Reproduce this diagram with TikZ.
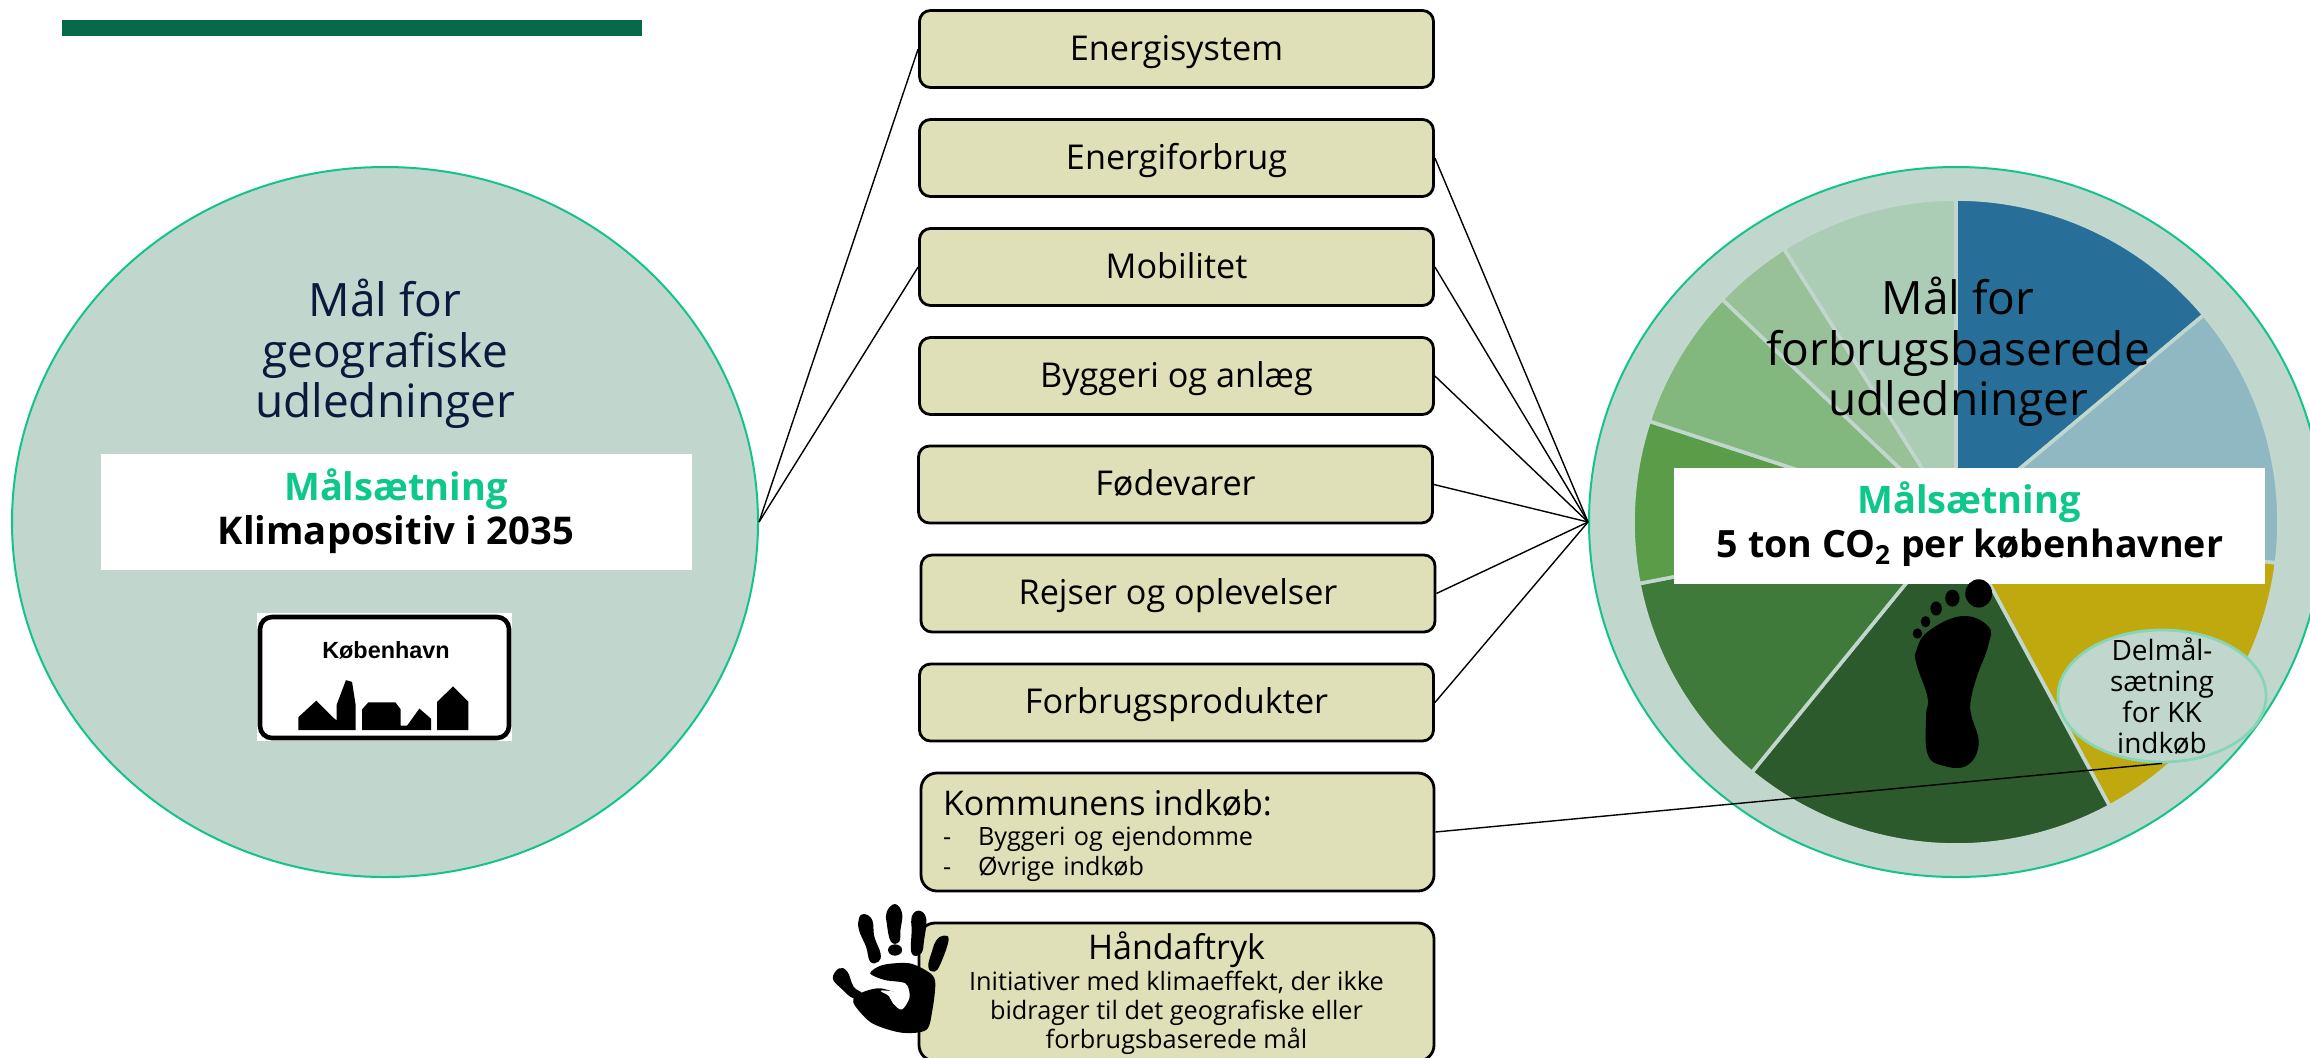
\documentclass[tikz,border=0pt]{standalone}
\usepackage{fontspec}
\setmainfont{Open Sans}
\newfontfamily\arialfont{Liberation Sans}
\usetikzlibrary{shapes.geometric}
\definecolor{ringbg}{HTML}{C1D7CE}
\definecolor{ringline}{HTML}{12C48B}
\definecolor{boxfill}{HTML}{DFDFB8}
\definecolor{barcol}{HTML}{07694A}
\definecolor{navytext}{HTML}{0A1A3C}
\definecolor{goalgreen}{HTML}{0EC78A}
\definecolor{softline}{HTML}{86D6B6}
\definecolor{pa}{HTML}{276E99}
\definecolor{pb}{HTML}{90B8C2}
\definecolor{pc}{HTML}{BFA90E}
\definecolor{pd}{HTML}{2C5A2C}
\definecolor{pe}{HTML}{3F7A3A}
\definecolor{pf}{HTML}{5A9C48}
\definecolor{pg}{HTML}{82B77D}
\definecolor{ph}{HTML}{99C198}
\definecolor{pi}{HTML}{ACCDB5}
\tikzset{
  bigring/.style={ellipse,draw=ringline,fill=ringbg,line width=1pt,minimum width=373pt,minimum height=355pt,inner sep=0pt},
  topicbox/.style={draw=black,fill=boxfill,rounded corners=5.5pt,line width=1.4pt,minimum width=257pt,minimum height=38.5pt,inner sep=0pt,text height=13pt,text depth=2pt,font=\fontsize{17.1}{20}\selectfont},
  wide/.style={draw=black,fill=boxfill,rounded corners=8pt,line width=1.4pt,inner sep=0pt},
  whitebar/.style={fill=white,inner sep=0pt,minimum width=295.5pt,minimum height=58pt},
  title/.style={align=center,inner sep=0pt,font=\fontsize{23}{25.2}\selectfont},
  goal/.style={inner sep=0pt,text=goalgreen,font=\bfseries\fontsize{19}{22}\selectfont},
  goaltext/.style={inner sep=0pt,text=black,font=\bfseries\fontsize{19.1}{22}\selectfont},
  link/.style={draw=black,line width=0.7pt},
  wedge/.style={draw=ringbg,line width=1.8pt,line join=round}
}
\newcommand{\pieslice}[3]{\filldraw[wedge,fill=#1] (0,0) -- (#2:323) arc (#2:#3:323) -- cycle;}
\begin{document}
\begin{tikzpicture}[x=0.5pt,y=-0.5pt]
\useasboundingbox (0,0) rectangle (2310,1057);
\clip (0,0) rectangle (2310,1057);

\fill[barcol] (62,20) rectangle (642,36);

% left ellipse
\node[bigring] (geo) at (385,522) {};
\node[title,text=navytext] (geotitle) at (385,354) {Mål for\\geografiske\\udledninger};
\node[whitebar] (geobar) at (396.5,512) {};
\node[goal] (geogoal) at (396,489) {Målsætning};
\node[goaltext] (geotext) at (396,535) {Klimapositiv i 2035};

% road sign
\fill[white] (257,613) rectangle (512,741);
\draw[black,line width=2.3pt,rounded corners=6pt] (260,617) rectangle (509,738);
\node[inner sep=0pt,font=\arialfont\bfseries\fontsize{11.7}{14}\selectfont] (signtext) at (386,650) {København};
\begin{scope}[xscale=0.5102,yscale=0.5682]
\fill[black] (585,1285) -- (585,1262) -- (620,1233) -- (652,1262) -- (660,1268) -- (660,1240) -- (678,1197) -- (690,1200) -- (697,1240) -- (697,1285) -- cycle;
\fill[black] (710,1285) -- (710,1248) -- (722,1236) -- (775,1236) -- (785,1248) -- (785,1277) -- (798,1277) -- (822,1247) -- (845,1265) -- (845,1285) -- cycle;
\fill[black] (857,1285) -- (857,1235) -- (888,1208) -- (918,1235) -- (918,1285) -- cycle;
\end{scope}

% right ellipse
\node[bigring,minimum width=367pt] (cons) at (1956,522) {};
\begin{scope}[shift={(1956,522)},yscale=-1]
\pieslice{pa}{39.9}{90}
\pieslice{pb}{-7.3}{39.9}
\pieslice{pc}{-61.6}{-7.3}
\pieslice{pd}{-129.2}{-61.6}
\pieslice{pe}{-169}{-129.2}
\pieslice{pf}{161.8}{191}
\pieslice{pg}{136.4}{161.8}
\pieslice{ph}{122.2}{136.4}
\pieslice{pi}{90}{122.2}
\end{scope}
\node[title,text=black] (constitle) at (1958,352) {Mål for\\forbrugsbaserede\\udledninger};
\node[whitebar] (consbar) at (1969.5,525.5) {};
\node[goal] (consgoal) at (1969,502) {Målsætning};
\node[goaltext,font=\bfseries\fontsize{18.8}{22}\selectfont] (constext) at (1970,548) {5 ton CO\textsubscript{2} per københavner};

% footprint
\begin{scope}[shift={(1560,150)},xscale=0.4785,yscale=0.4717]
\fill[black] plot[smooth cycle,tension=0.7] coordinates {(840,988) (895,1010) (895,1050) (870,1120) (858,1170) (860,1200) (875,1260) (850,1305) (800,1305) (768,1280) (765,1200) (768,1160) (745,1090) (745,1060) (770,1020)};
\fill[black] (875,940) ellipse (28 and 30);
\fill[black] (820,950) ellipse (15 and 18);
\fill[black] (786,972) ellipse (12 and 15);
\fill[black] (764,1000) ellipse (10 and 12);
\fill[black] (747,1025) ellipse (10 and 11);
\end{scope}

% small ellipse
\node[ellipse,draw=softline,fill=ringbg,line width=1.4pt,minimum width=104pt,minimum height=66pt,inner sep=0pt] (delmaal) at (2162,696) {};
\node[inner sep=0pt,align=center,font=\fontsize{14}{15.6}\selectfont] (delmaaltext) at (2162,696) {Delmål-\\sætning\\for KK\\indkøb};

% boxes
\node[topicbox] (b1) at (1176.5,49) {Energisystem};
\node[topicbox] (b2) at (1176.5,158) {Energiforbrug};
\node[topicbox] (b3) at (1176.5,267) {Mobilitet};
\node[topicbox] (b4) at (1176.5,376) {Byggeri og anlæg};
\node[topicbox] (b5) at (1175.5,484.5) {Fødevarer};
\node[topicbox] (b6) at (1178,593.5) {Rejser og oplevelser};
\node[topicbox] (b7) at (1176.5,702.5) {Forbrugsprodukter};
\node[wide,minimum width=256.5pt,minimum height=59pt] (b8) at (1177.5,832) {};
\node[inner sep=0pt,align=left,text width=233pt,font=\fontsize{12.6}{15}\selectfont] (b8text) at (1176,836) {{\fontsize{17}{20}\selectfont Kommunens indkøb:}\\\makebox[17.5pt][l]{-}Byggeri og ejendomme\\\makebox[17.5pt][l]{-}Øvrige indkøb};
\node[wide,minimum width=257.5pt,minimum height=69pt] (b9) at (1176.5,992) {};
\node[inner sep=0pt,align=center,font=\fontsize{12.65}{14.5}\selectfont] (b9text) at (1176.5,993) {{\fontsize{17}{20}\selectfont Håndaftryk}\\[1pt]Initiativer med klimaeffekt, der ikke\\bidrager til det geografiske eller\\forbrugsbaserede mål};

% hand print
\begin{scope}[shift={(810,750)},xscale=0.4149,yscale=0.3333]
\fill[black] plot[smooth cycle,tension=0.7] coordinates {(130,492) (150,510) (155,560) (170,610) (165,635) (145,635) (135,590) (118,540) (118,505)};
\fill[black] plot[smooth cycle,tension=0.7] coordinates {(205,462) (222,490) (218,540) (215,575) (195,575) (185,520) (185,485)};
\fill[black] (205,600) ellipse (17 and 17);
\fill[black] plot[smooth cycle,tension=0.7] coordinates {(262,482) (280,505) (275,570) (268,610) (245,610) (245,540) (245,500)};
\fill[black] plot[smooth cycle,tension=0.7] coordinates {(322,557) (334,570) (315,640) (300,665) (285,650) (295,600) (305,570)};
\fill[black] plot[smooth cycle,tension=0.7] coordinates {(70,655) (90,665) (105,710) (125,730) (105,745) (75,715) (55,685)};
\fill[black] plot[smooth cycle,tension=0.5] coordinates {(175,645) (240,640) (290,670) (302,700) (295,780) (280,840) (220,848) (150,820) (110,770) (105,745) (130,725) (170,715) (225,735) (240,735) (230,700) (180,690) (145,670)};
\fill[white] plot[smooth cycle,tension=0.6] coordinates {(170,722) (205,725) (240,735) (222,778) (200,760) (190,738)};
\end{scope}

% connectors
\draw[link] (geo.east) -- (b1.west);
\draw[link] (geo.east) -- (b3.west);
\draw[link] (b2.east) -- (cons.west);
\draw[link] (b3.east) -- (cons.west);
\draw[link] (b4.east) -- (cons.west);
\draw[link] (b5.east) -- (cons.west);
\draw[link] (b6.east) -- (cons.west);
\draw[link] (b7.east) -- (cons.west);
\draw[link] (b8.east) -- (delmaal.south);
\end{tikzpicture}
\end{document}
